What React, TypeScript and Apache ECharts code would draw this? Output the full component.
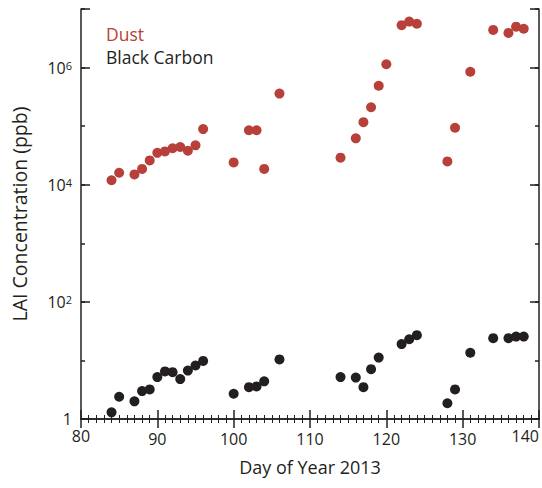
import React, { useEffect, useRef } from "react";
import * as echarts from "echarts";

// Sampling days (day of year 2013)
const days = [
  84, 85, 87, 88, 89, 90, 91, 92, 93, 94, 95, 96, 100, 102, 103, 104, 106,
  114, 116, 117, 118, 119, 120, 122, 123, 124, 128, 129, 131, 134, 136, 137, 138,
];

// LAI concentration of dust (ppb)
const dust = [
  1.19e4, 1.6e4, 1.5e4, 1.86e4, 2.6e4, 3.5e4, 3.7e4, 4.2e4, 4.4e4, 3.8e4, 4.7e4, 8.9e4,
  2.4e4, 8.5e4, 8.5e4, 1.86e4, 3.6e5,
  2.9e4, 6.2e4, 1.17e5, 2.1e5, 4.9e5, 1.14e6, 5.3e6, 6.1e6, 5.6e6,
  2.5e4, 9.4e4, 8.5e5, 4.4e6, 3.9e6, 5.0e6, 4.6e6,
];

// LAI concentration of black carbon (ppb); no sample on day 120
const blackCarbon: (number | null)[] = [
  1.3, 2.4, 2.0, 3.0, 3.2, 5.2, 6.5, 6.3, 4.8, 6.7, 8.2, 9.8,
  2.7, 3.5, 3.6, 4.4, 10.4,
  5.2, 5.1, 3.5, 7.1, 11.2, null, 19, 23, 27,
  1.86, 3.2, 13.5, 24, 24, 25.5, 25.5,
];

const seriesNames = ["Dust", "Black Carbon"];
const seriesColors = ["#b8403a", "#231f20"];

const FONT = "'Open Sans', sans-serif";
const INK = "#231f20";

const pairs = (ys: (number | null)[]) =>
  days.map((d, i) => (ys[i] == null ? null : [d, ys[i]])).filter((p) => p !== null);

export default function App() {
  const ref = useRef<HTMLDivElement>(null);

  useEffect(() => {
    if (!ref.current) return;
    const chart = echarts.init(ref.current, null, { renderer: "svg" });

    const frameLine = { show: true, lineStyle: { color: INK, width: 1.5 } };
    const majorTick = { show: true, inside: true, length: 9, lineStyle: { color: INK, width: 1.5 } };
    const minorTickY = { show: true, inside: true, length: 4, lineStyle: { color: INK, width: 1.5 } };
    const minorTickX = { show: true, splitNumber: 10, length: 4, lineStyle: { color: INK, width: 1 } };

    const logLabel = (v: number) => {
      const e = Math.round(Math.log10(v));
      if (e % 2 !== 0) return "";
      if (e === 0) return "{b|1}";
      return `{b|10}{s|${e}}`;
    };

    // the end labels sit a little higher than the inner ones
    const dayLabel = (v: number) => (v === 80 || v === 140 ? `{e|${v}}` : `{n|${v}}`);

    chart.setOption({
      animation: false,
      backgroundColor: "#ffffff",
      grid: { left: 81, right: 2, top: 9, bottom: 69, containLabel: false },
      xAxis: [
        {
          type: "value",
          position: "bottom",
          min: 80,
          max: 140,
          interval: 10,
          axisLine: frameLine,
          axisTick: majorTick,
          minorTick: minorTickX,
          axisLabel: {
            margin: 9,
            alignMaxLabel: "right",
            formatter: dayLabel,
            rich: {
              e: { fontSize: 16, fontFamily: FONT, color: INK },
              n: { fontSize: 16, fontFamily: FONT, color: INK, padding: [3, 0, 0, 0] },
            },
          },
          splitLine: { show: false },
          name: "Day of Year 2013",
          nameLocation: "middle",
          nameGap: 39,
          nameTextStyle: { fontSize: 18, fontFamily: FONT, color: INK },
        },
        {
          type: "value",
          position: "top",
          min: 80,
          max: 140,
          interval: 10,
          axisLine: frameLine,
          axisTick: majorTick,
          minorTick: minorTickX,
          axisLabel: { show: false },
          splitLine: { show: false },
        },
      ],
      yAxis: [
        {
          type: "log",
          logBase: 10,
          position: "left",
          min: 1,
          max: 1e7,
          splitNumber: 7,
          axisLine: frameLine,
          axisTick: minorTickY,
          axisLabel: {
            margin: 9,
            formatter: logLabel,
            rich: {
              b: { fontSize: 16, fontFamily: FONT, color: INK },
              s: { fontSize: 11, fontFamily: FONT, color: INK, padding: [0, 0, 5, 0] },
            },
          },
          splitLine: { show: false },
          name: "LAI Concentration (ppb)",
          nameLocation: "middle",
          nameGap: 52,
          nameRotate: 90,
          nameTextStyle: { fontSize: 19.5, fontFamily: FONT, color: INK },
        },
        {
          // longer ticks on every second decade
          type: "value",
          position: "left",
          min: 0,
          max: 7,
          interval: 2,
          axisLine: { show: false },
          axisTick: majorTick,
          axisLabel: { show: false },
          splitLine: { show: false },
        },
        {
          type: "log",
          logBase: 10,
          position: "right",
          min: 1,
          max: 1e7,
          splitNumber: 7,
          axisLine: frameLine,
          axisTick: minorTickY,
          axisLabel: { show: false },
          splitLine: { show: false },
        },
        {
          type: "value",
          position: "right",
          min: 0,
          max: 7,
          interval: 2,
          axisLine: { show: false },
          axisTick: majorTick,
          axisLabel: { show: false },
          splitLine: { show: false },
        },
      ],
      graphic: [
        {
          type: "text",
          left: 106,
          top: 25,
          style: { text: seriesNames[0], fill: seriesColors[0], font: `17.5px ${FONT}` },
        },
        {
          type: "text",
          left: 106,
          top: 48,
          style: { text: seriesNames[1], fill: seriesColors[1], font: `17.5px ${FONT}` },
        },
      ],
      series: [
        {
          name: seriesNames[0],
          type: "scatter",
          xAxisIndex: 0,
          yAxisIndex: 0,
          symbolSize: 10,
          itemStyle: { color: seriesColors[0], opacity: 1 },
          data: pairs(dust),
        },
        {
          name: seriesNames[1],
          type: "scatter",
          xAxisIndex: 0,
          yAxisIndex: 0,
          symbolSize: 10,
          itemStyle: { color: seriesColors[1], opacity: 1 },
          data: pairs(blackCarbon),
        },
      ],
    });

    return () => chart.dispose();
  }, []);

  return (
    <div
      ref={ref}
      style={{ position: "fixed", left: 0, top: 0, width: 542, height: 488 }}
    />
  );
}
